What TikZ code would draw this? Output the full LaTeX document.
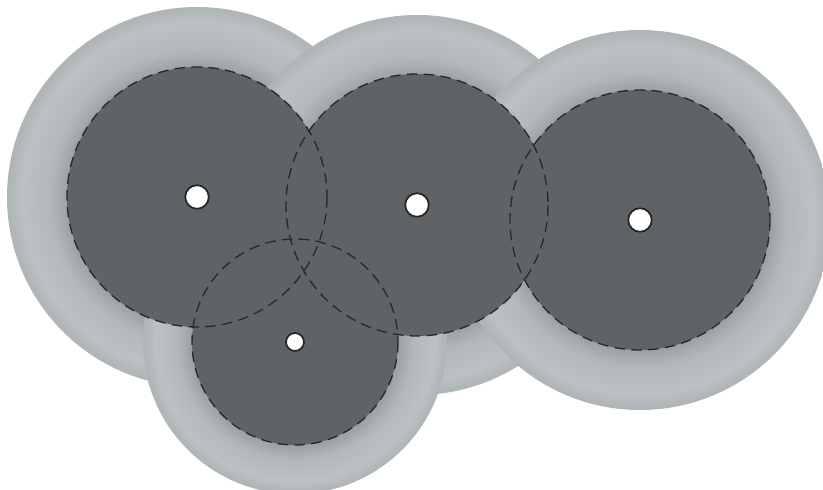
\documentclass[tikz,border=0pt]{standalone}
\usepackage{tikz}
\usetikzlibrary{positioning}
\definecolor{disk}{HTML}{5F6366}
\definecolor{haloin}{HTML}{959CA1}
\definecolor{halomid}{HTML}{B3B8BB}
\definecolor{haloout}{HTML}{BCC1C4}
\definecolor{haloedge}{HTML}{B0B5B8}
\definecolor{rim}{HTML}{26292C}
\pgfdeclareradialshading{halo}{\pgfpointorigin}{color(0bp)=(haloin); color(16.5bp)=(haloin); color(19.5bp)=(halomid); color(23bp)=(haloout); color(24.6bp)=(haloedge); color(25bp)=(haloedge); color(50bp)=(haloedge)}
\begin{document}
\begin{tikzpicture}[x=0.02cm, y=-0.02cm,
  halofill/.style={shading=halo},
  diskfill/.style={fill=disk},
  rangeline/.style={draw=rim, dash pattern=on 6pt off 3.6pt, line width=0.75pt},
  sensor/.style={circle, draw=black!85, fill=white, line width=1pt, inner sep=0pt, minimum size=#1},
]
\useasboundingbox (0,0) rectangle (823,490);
\clip (0,0) rectangle (823,490);
\def\sites{1/197/197/130/190/13.4pt, 2/417/205/131/190/13.4pt, 3/640/220/130/190/13.4pt, 4/295/342/103/152/10.2pt}
% outer halos
\foreach \n/\x/\y/\r/\R/\d in \sites {
  \shade[halofill] (\x,\y) circle (\R);
}
% inner discs
\foreach \n/\x/\y/\r/\R/\d in \sites {
  \fill[diskfill] (\x,\y) circle (\r);
}
\foreach \n/\x/\y/\r/\R/\d in \sites {
  \draw[rangeline] (\x,\y) circle (\r);
}
% sensors
\foreach \n/\x/\y/\r/\R/\d in \sites {
  \node[sensor=\d] (s\n) at (\x,\y) {};
}
\end{tikzpicture}
\end{document}
